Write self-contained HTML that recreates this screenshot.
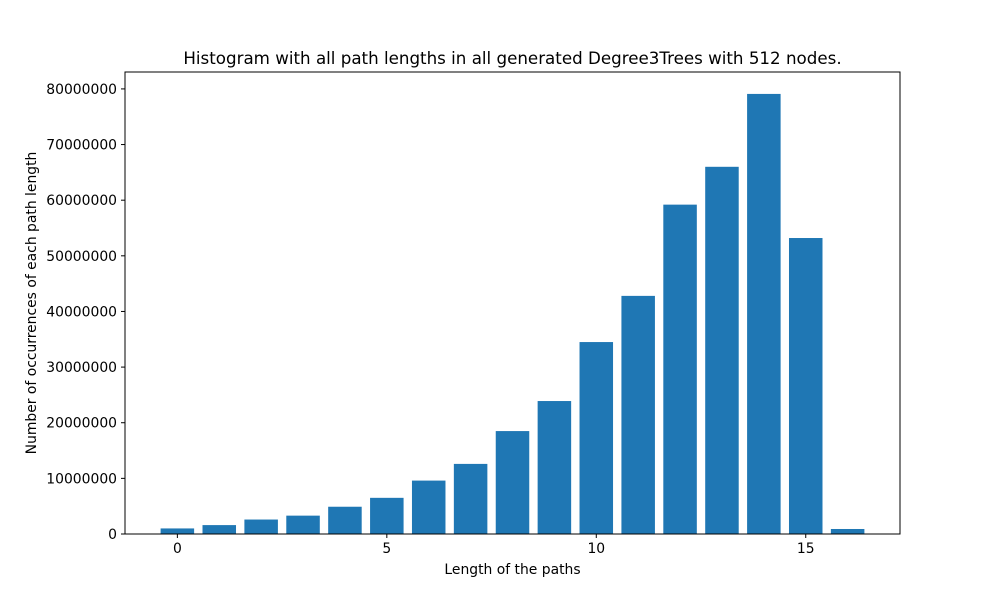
<!DOCTYPE html>
<html><head><meta charset="utf-8"><style>body{margin:0;background:#fff}svg{display:block;font-family:"DejaVu Sans","Liberation Sans",sans-serif}</style></head>
<body>
<svg id="chart" width="1000" height="600" xmlns="http://www.w3.org/2000/svg">
<rect width="1000" height="600" fill="#fff"/>
<g id="bars"></g>
<g id="xaxis"></g>
<g id="yaxis"></g>
<rect x="125" y="72" width="775" height="462" fill="none" stroke="#000" stroke-width="1"/>
<text x="512.5" y="64" text-anchor="middle" font-size="16.7">Histogram with all path lengths in all generated Degree3Trees with 512 nodes.</text>
<text x="512.5" y="574" text-anchor="middle" font-size="13.9">Length of the paths</text>
<text transform="translate(36,303) rotate(-90)" text-anchor="middle" font-size="13.9">Number of occurrences of each path length</text>
</svg>
<script>
const categories=[0,1,2,3,4,5,6,7,8,9,10,11,12,13,14,15,16];
const counts=[1000000,1600000,2600000,3300000,4900000,6500000,9600000,12600000,18500000,23900000,34500000,42800000,59200000,66000000,79100000,53200000,900000];
const xTicks=[0,5,10,15];
const yTicks=[0,10000000,20000000,30000000,40000000,50000000,60000000,70000000,80000000];
const NS="http://www.w3.org/2000/svg";
const L=125,R=900,T=72,B=534,xmin=-1.25,xmax=17.25,ymax=83040000;
const xs=v=>L+(v-xmin)/(xmax-xmin)*(R-L);
const ys=v=>B-v/ymax*(B-T);
function mk(tag,attrs,parent){const e=document.createElementNS(NS,tag);for(const k in attrs)e.setAttribute(k,attrs[k]);parent.appendChild(e);return e;}
const bars=document.getElementById('bars');
categories.forEach((c,i)=>{
 const x0=xs(c-0.4),x1=xs(c+0.4);
 const r=mk('rect',{x:x0,y:ys(counts[i]),width:x1-x0,height:B-ys(counts[i]),fill:'#1f77b4'},bars);
 
 
});
const xa=document.getElementById('xaxis');
xTicks.forEach(t=>{
 const l=mk('line',{x1:xs(t),x2:xs(t),y1:B,y2:B+4,stroke:'#000'},xa);
 
 
 const tx=mk('text',{x:xs(t),y:B+19,'text-anchor':'middle','font-size':13.9},xa);
 tx.textContent=t;
 
 
});
const ya=document.getElementById('yaxis');
yTicks.forEach(t=>{
 const l=mk('line',{x1:L-4,x2:L,y1:ys(t),y2:ys(t),stroke:'#000'},ya);
 
 
 const tx=mk('text',{x:L-8,y:ys(t)+5,'text-anchor':'end','font-size':13.9},ya);
 tx.textContent=t;
 
 
});
</script>
</body></html>
